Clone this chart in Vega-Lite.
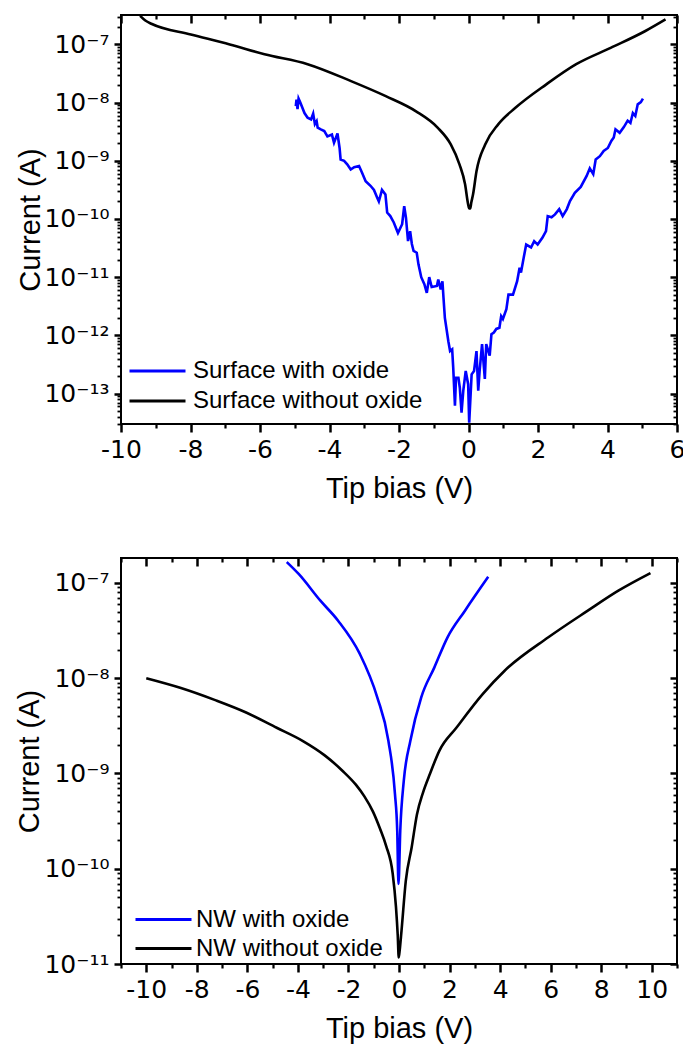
{
  "$schema": "https://vega.github.io/schema/vega-lite/v6.json",
  "padding": {"left": 14, "top": 12, "right": 0, "bottom": 0},
  "spacing": 51,
  "resolve": {"scale": {"color": "independent"}, "legend": {"color": "independent"}},
  "datasets": {
    "surface": [
      {"V": -9.45, "I": 3.09e-7, "series": "Surface without oxide"},
      {"V": -9.3, "I": 2.57e-7, "series": "Surface without oxide"},
      {"V": -9.11, "I": 2.24e-7, "series": "Surface without oxide"},
      {"V": -7.99, "I": 1.48e-7, "series": "Surface without oxide"},
      {"V": -6.87, "I": 1.0e-7, "series": "Surface without oxide"},
      {"V": -5.87, "I": 6.76e-8, "series": "Surface without oxide"},
      {"V": -4.63, "I": 4.57e-8, "series": "Surface without oxide"},
      {"V": -3.38, "I": 2.34e-8, "series": "Surface without oxide"},
      {"V": -2.38, "I": 1.29e-8, "series": "Surface without oxide"},
      {"V": -1.51, "I": 7.08e-9, "series": "Surface without oxide"},
      {"V": -0.89, "I": 3.72e-9, "series": "Surface without oxide"},
      {"V": -0.51, "I": 1.91e-9, "series": "Surface without oxide"},
      {"V": -0.26, "I": 8.71e-10, "series": "Surface without oxide"},
      {"V": -0.1, "I": 3.98e-10, "series": "Surface without oxide"},
      {"V": -0.01, "I": 1.78e-10, "series": "Surface without oxide"},
      {"V": 0.02, "I": 1.51e-10, "series": "Surface without oxide"},
      {"V": 0.05, "I": 1.51e-10, "series": "Surface without oxide"},
      {"V": 0.08, "I": 1.91e-10, "series": "Surface without oxide"},
      {"V": 0.13, "I": 2.63e-10, "series": "Surface without oxide"},
      {"V": 0.23, "I": 6.61e-10, "series": "Surface without oxide"},
      {"V": 0.48, "I": 1.91e-9, "series": "Surface without oxide"},
      {"V": 0.86, "I": 4.27e-9, "series": "Surface without oxide"},
      {"V": 1.35, "I": 8.13e-9, "series": "Surface without oxide"},
      {"V": 2.23, "I": 2.04e-8, "series": "Surface without oxide"},
      {"V": 3.1, "I": 4.57e-8, "series": "Surface without oxide"},
      {"V": 4.09, "I": 8.71e-8, "series": "Surface without oxide"},
      {"V": 5.09, "I": 1.7e-7, "series": "Surface without oxide"},
      {"V": 5.67, "I": 2.69e-7, "series": "Surface without oxide"},
      {"V": -4.97, "I": 8.71e-9, "series": "Surface with oxide"},
      {"V": -4.95, "I": 1.12e-8, "series": "Surface with oxide"},
      {"V": -4.92, "I": 7.76e-9, "series": "Surface with oxide"},
      {"V": -4.89, "I": 1.17e-8, "series": "Surface with oxide"},
      {"V": -4.84, "I": 1.0e-8, "series": "Surface with oxide"},
      {"V": -4.72, "I": 6.61e-9, "series": "Surface with oxide"},
      {"V": -4.63, "I": 5.5e-9, "series": "Surface with oxide"},
      {"V": -4.53, "I": 5.13e-9, "series": "Surface with oxide"},
      {"V": -4.47, "I": 6.46e-9, "series": "Surface with oxide"},
      {"V": -4.42, "I": 4.27e-9, "series": "Surface with oxide"},
      {"V": -4.37, "I": 4.79e-9, "series": "Surface with oxide"},
      {"V": -4.34, "I": 3.72e-9, "series": "Surface with oxide"},
      {"V": -4.25, "I": 3.47e-9, "series": "Surface with oxide"},
      {"V": -4.15, "I": 3.24e-9, "series": "Surface with oxide"},
      {"V": -4.06, "I": 2.63e-9, "series": "Surface with oxide"},
      {"V": -3.93, "I": 2.82e-9, "series": "Surface with oxide"},
      {"V": -3.87, "I": 2.04e-9, "series": "Surface with oxide"},
      {"V": -3.77, "I": 2.95e-9, "series": "Surface with oxide"},
      {"V": -3.71, "I": 1.66e-9, "series": "Surface with oxide"},
      {"V": -3.68, "I": 1.05e-9, "series": "Surface with oxide"},
      {"V": -3.58, "I": 1.0e-9, "series": "Surface with oxide"},
      {"V": -3.49, "I": 8.71e-10, "series": "Surface with oxide"},
      {"V": -3.39, "I": 7.08e-10, "series": "Surface with oxide"},
      {"V": -3.29, "I": 7.76e-10, "series": "Surface with oxide"},
      {"V": -3.15, "I": 8.13e-10, "series": "Surface with oxide"},
      {"V": -3.06, "I": 6.17e-10, "series": "Surface with oxide"},
      {"V": -2.96, "I": 4.47e-10, "series": "Surface with oxide"},
      {"V": -2.82, "I": 3.72e-10, "series": "Surface with oxide"},
      {"V": -2.72, "I": 3.16e-10, "series": "Surface with oxide"},
      {"V": -2.63, "I": 2.34e-10, "series": "Surface with oxide"},
      {"V": -2.58, "I": 2.0e-10, "series": "Surface with oxide"},
      {"V": -2.49, "I": 3.16e-10, "series": "Surface with oxide"},
      {"V": -2.39, "I": 2.63e-10, "series": "Surface with oxide"},
      {"V": -2.34, "I": 1.29e-10, "series": "Surface with oxide"},
      {"V": -2.25, "I": 1.12e-10, "series": "Surface with oxide"},
      {"V": -2.15, "I": 8.71e-11, "series": "Surface with oxide"},
      {"V": -2.03, "I": 5.75e-11, "series": "Surface with oxide"},
      {"V": -1.91, "I": 8.13e-11, "series": "Surface with oxide"},
      {"V": -1.85, "I": 1.66e-10, "series": "Surface with oxide"},
      {"V": -1.8, "I": 1.05e-10, "series": "Surface with oxide"},
      {"V": -1.74, "I": 4.17e-11, "series": "Surface with oxide"},
      {"V": -1.68, "I": 6.17e-11, "series": "Surface with oxide"},
      {"V": -1.63, "I": 3.72e-11, "series": "Surface with oxide"},
      {"V": -1.58, "I": 2.82e-11, "series": "Surface with oxide"},
      {"V": -1.49, "I": 2.63e-11, "series": "Surface with oxide"},
      {"V": -1.44, "I": 1.66e-11, "series": "Surface with oxide"},
      {"V": -1.36, "I": 1.0e-11, "series": "Surface with oxide"},
      {"V": -1.27, "I": 7.59e-12, "series": "Surface with oxide"},
      {"V": -1.2, "I": 5.37e-12, "series": "Surface with oxide"},
      {"V": -1.13, "I": 1.0e-11, "series": "Surface with oxide"},
      {"V": -1.06, "I": 6.76e-12, "series": "Surface with oxide"},
      {"V": -0.91, "I": 7.08e-12, "series": "Surface with oxide"},
      {"V": -0.87, "I": 9.12e-12, "series": "Surface with oxide"},
      {"V": -0.8, "I": 6.17e-12, "series": "Surface with oxide"},
      {"V": -0.75, "I": 8.51e-12, "series": "Surface with oxide"},
      {"V": -0.72, "I": 4.47e-12, "series": "Surface with oxide"},
      {"V": -0.68, "I": 2.0e-12, "series": "Surface with oxide"},
      {"V": -0.58, "I": 7.94e-13, "series": "Surface with oxide"},
      {"V": -0.53, "I": 5.37e-13, "series": "Surface with oxide"},
      {"V": -0.47, "I": 5.75e-13, "series": "Surface with oxide"},
      {"V": -0.44, "I": 2.82e-13, "series": "Surface with oxide"},
      {"V": -0.39, "I": 6.17e-14, "series": "Surface with oxide"},
      {"V": -0.36, "I": 1.86e-13, "series": "Surface with oxide"},
      {"V": -0.29, "I": 1.86e-13, "series": "Surface with oxide"},
      {"V": -0.25, "I": 1.26e-13, "series": "Surface with oxide"},
      {"V": -0.2, "I": 4.68e-14, "series": "Surface with oxide"},
      {"V": -0.15, "I": 1.12e-13, "series": "Surface with oxide"},
      {"V": -0.08, "I": 2.45e-13, "series": "Surface with oxide"},
      {"V": -0.01, "I": 1.45e-13, "series": "Surface with oxide"},
      {"V": 0.02, "I": 3.16e-14, "series": "Surface with oxide"},
      {"V": 0.09, "I": 2.14e-13, "series": "Surface with oxide"},
      {"V": 0.16, "I": 2.45e-13, "series": "Surface with oxide"},
      {"V": 0.23, "I": 5.37e-13, "series": "Surface with oxide"},
      {"V": 0.28, "I": 1.12e-13, "series": "Surface with oxide"},
      {"V": 0.32, "I": 2.45e-13, "series": "Surface with oxide"},
      {"V": 0.39, "I": 7.08e-13, "series": "Surface with oxide"},
      {"V": 0.47, "I": 1.78e-13, "series": "Surface with oxide"},
      {"V": 0.51, "I": 7.08e-13, "series": "Surface with oxide"},
      {"V": 0.61, "I": 4.47e-13, "series": "Surface with oxide"},
      {"V": 0.66, "I": 1.05e-12, "series": "Surface with oxide"},
      {"V": 0.73, "I": 1.12e-12, "series": "Surface with oxide"},
      {"V": 0.8, "I": 1.29e-12, "series": "Surface with oxide"},
      {"V": 0.89, "I": 1.35e-12, "series": "Surface with oxide"},
      {"V": 0.94, "I": 2.14e-12, "series": "Surface with oxide"},
      {"V": 0.99, "I": 1.91e-12, "series": "Surface with oxide"},
      {"V": 1.09, "I": 2.82e-12, "series": "Surface with oxide"},
      {"V": 1.15, "I": 5.01e-12, "series": "Surface with oxide"},
      {"V": 1.28, "I": 5.01e-12, "series": "Surface with oxide"},
      {"V": 1.4, "I": 8.51e-12, "series": "Surface with oxide"},
      {"V": 1.47, "I": 1.45e-11, "series": "Surface with oxide"},
      {"V": 1.51, "I": 1.2e-11, "series": "Surface with oxide"},
      {"V": 1.59, "I": 2.19e-11, "series": "Surface with oxide"},
      {"V": 1.66, "I": 3.63e-11, "series": "Surface with oxide"},
      {"V": 1.8, "I": 3.24e-11, "series": "Surface with oxide"},
      {"V": 1.89, "I": 4.17e-11, "series": "Surface with oxide"},
      {"V": 1.99, "I": 3.63e-11, "series": "Surface with oxide"},
      {"V": 2.13, "I": 4.79e-11, "series": "Surface with oxide"},
      {"V": 2.23, "I": 6.17e-11, "series": "Surface with oxide"},
      {"V": 2.28, "I": 1.12e-10, "series": "Surface with oxide"},
      {"V": 2.39, "I": 1.07e-10, "series": "Surface with oxide"},
      {"V": 2.49, "I": 1.2e-10, "series": "Surface with oxide"},
      {"V": 2.61, "I": 1.48e-10, "series": "Surface with oxide"},
      {"V": 2.71, "I": 1.12e-10, "series": "Surface with oxide"},
      {"V": 2.83, "I": 1.48e-10, "series": "Surface with oxide"},
      {"V": 2.92, "I": 2.04e-10, "series": "Surface with oxide"},
      {"V": 3.06, "I": 2.82e-10, "series": "Surface with oxide"},
      {"V": 3.23, "I": 3.55e-10, "series": "Surface with oxide"},
      {"V": 3.4, "I": 5.5e-10, "series": "Surface with oxide"},
      {"V": 3.49, "I": 7.41e-10, "series": "Surface with oxide"},
      {"V": 3.59, "I": 5.89e-10, "series": "Surface with oxide"},
      {"V": 3.66, "I": 1.05e-9, "series": "Surface with oxide"},
      {"V": 3.78, "I": 1.2e-9, "series": "Surface with oxide"},
      {"V": 3.89, "I": 1.48e-9, "series": "Surface with oxide"},
      {"V": 4.01, "I": 1.66e-9, "series": "Surface with oxide"},
      {"V": 4.11, "I": 2.19e-9, "series": "Surface with oxide"},
      {"V": 4.18, "I": 2.51e-9, "series": "Surface with oxide"},
      {"V": 4.23, "I": 3.47e-9, "series": "Surface with oxide"},
      {"V": 4.35, "I": 3.02e-9, "series": "Surface with oxide"},
      {"V": 4.47, "I": 3.8e-9, "series": "Surface with oxide"},
      {"V": 4.58, "I": 4.9e-9, "series": "Surface with oxide"},
      {"V": 4.66, "I": 4.47e-9, "series": "Surface with oxide"},
      {"V": 4.73, "I": 6.61e-9, "series": "Surface with oxide"},
      {"V": 4.8, "I": 5.89e-9, "series": "Surface with oxide"},
      {"V": 4.87, "I": 9.33e-9, "series": "Surface with oxide"},
      {"V": 4.96, "I": 1.02e-8, "series": "Surface with oxide"},
      {"V": 5.02, "I": 1.17e-8, "series": "Surface with oxide"}
    ],
    "nw": [
      {"V": -10.0, "I": 1.0e-8, "series": "NW without oxide"},
      {"V": -8.66, "I": 7.94e-9, "series": "NW without oxide"},
      {"V": -7.27, "I": 5.89e-9, "series": "NW without oxide"},
      {"V": -6.05, "I": 4.37e-9, "series": "NW without oxide"},
      {"V": -4.84, "I": 3.02e-9, "series": "NW without oxide"},
      {"V": -3.8, "I": 2.19e-9, "series": "NW without oxide"},
      {"V": -2.94, "I": 1.55e-9, "series": "NW without oxide"},
      {"V": -2.24, "I": 1.07e-9, "series": "NW without oxide"},
      {"V": -1.7, "I": 7.59e-10, "series": "NW without oxide"},
      {"V": -1.37, "I": 5.75e-10, "series": "NW without oxide"},
      {"V": -1.03, "I": 3.98e-10, "series": "NW without oxide"},
      {"V": -0.75, "I": 2.63e-10, "series": "NW without oxide"},
      {"V": -0.51, "I": 1.74e-10, "series": "NW without oxide"},
      {"V": -0.25, "I": 8.91e-11, "series": "NW without oxide"},
      {"V": -0.12, "I": 3.98e-11, "series": "NW without oxide"},
      {"V": -0.05, "I": 2.0e-11, "series": "NW without oxide"},
      {"V": -0.01, "I": 1.17e-11, "series": "NW without oxide"},
      {"V": 0.03, "I": 1.41e-11, "series": "NW without oxide"},
      {"V": 0.1, "I": 2.24e-11, "series": "NW without oxide"},
      {"V": 0.27, "I": 7.5e-11, "series": "NW without oxide"},
      {"V": 0.5, "I": 1.67e-10, "series": "NW without oxide"},
      {"V": 0.71, "I": 3.72e-10, "series": "NW without oxide"},
      {"V": 0.95, "I": 6.31e-10, "series": "NW without oxide"},
      {"V": 1.23, "I": 1.0e-9, "series": "NW without oxide"},
      {"V": 1.6, "I": 1.74e-9, "series": "NW without oxide"},
      {"V": 2.27, "I": 3.02e-9, "series": "NW without oxide"},
      {"V": 3.31, "I": 6.82e-9, "series": "NW without oxide"},
      {"V": 4.18, "I": 1.2e-8, "series": "NW without oxide"},
      {"V": 5.91, "I": 2.69e-8, "series": "NW without oxide"},
      {"V": 7.47, "I": 5.12e-8, "series": "NW without oxide"},
      {"V": 8.68, "I": 8.3e-8, "series": "NW without oxide"},
      {"V": 9.95, "I": 1.27e-7, "series": "NW without oxide"},
      {"V": -4.44, "I": 1.66e-7, "series": "NW with oxide"},
      {"V": -3.97, "I": 1.245e-7, "series": "NW with oxide"},
      {"V": -3.11, "I": 6.52e-8, "series": "NW with oxide"},
      {"V": -2.41, "I": 4.02e-8, "series": "NW with oxide"},
      {"V": -1.55, "I": 1.8e-8, "series": "NW with oxide"},
      {"V": -0.86, "I": 6.31e-9, "series": "NW with oxide"},
      {"V": -0.42, "I": 2.21e-9, "series": "NW with oxide"},
      {"V": -0.16, "I": 6.1e-10, "series": "NW with oxide"},
      {"V": -0.07, "I": 2.51e-10, "series": "NW with oxide"},
      {"V": -0.02, "I": 6.92e-11, "series": "NW with oxide"},
      {"V": 0.05, "I": 2.51e-10, "series": "NW with oxide"},
      {"V": 0.19, "I": 8.4e-10, "series": "NW with oxide"},
      {"V": 0.45, "I": 2.21e-9, "series": "NW with oxide"},
      {"V": 0.88, "I": 6.31e-9, "series": "NW with oxide"},
      {"V": 1.4, "I": 1.3e-8, "series": "NW with oxide"},
      {"V": 1.92, "I": 2.69e-8, "series": "NW with oxide"},
      {"V": 2.61, "I": 5.12e-8, "series": "NW with oxide"},
      {"V": 3.53, "I": 1.16e-7, "series": "NW with oxide"}
    ]
  },
  "vconcat": [
    {
      "width": 556,
      "height": 409,
      "data": {"name": "surface"},
      "layer": [
        {
          "transform": [{"filter": "datum.series == 'Surface with oxide'"}],
          "mark": {"type": "line", "strokeWidth": 2.6, "clip": true},
          "encoding": {
            "x": {
              "field": "V", "type": "quantitative",
              "scale": {"domain": [-10, 6], "nice": false, "zero": false},
              "axis": {
                "orient": "bottom", "title": "Tip bias (V)",
                "values": [-10, -8, -6, -4, -2, 0, 2, 4, 6],
                "labelExpr": "toString(datum.value)",
                "tickWidth": 2.5, "tickSize": 8, "labelPadding": 5, "titlePadding": 12
              }
            },
            "y": {
              "field": "I", "type": "quantitative",
              "scale": {"type": "log", "domain": [3e-14, 3.2e-7], "nice": false},
              "axis": {
                "orient": "left", "title": "Current (A)",
                "values": [1e-13, 1e-12, 1e-11, 1e-10, 1e-9, 1e-8, 1e-7],
                "labelExpr": "'10⁻' + (abs(round(log(datum.value)/LN10)) >= 10 ? '¹' : '') + ['⁰','¹','²','³','⁴','⁵','⁶','⁷','⁸','⁹'][abs(round(log(datum.value)/LN10)) % 10]",
                "tickWidth": 2.5, "tickSize": 7, "labelPadding": 5, "titlePadding": -2
              }
            },
            "color": {
              "field": "series", "type": "nominal",
              "scale": {"domain": ["Surface with oxide", "Surface without oxide"], "range": ["#0000ff", "#000000"]},
              "legend": {"orient": "none", "legendX": 7, "legendY": 342, "title": null, "clipHeight": 28, "rowPadding": 2, "labelOffset": 6}
            }
          }
        },
        {
          "transform": [{"filter": "datum.series == 'Surface without oxide'"}],
          "mark": {"type": "line", "strokeWidth": 2.6, "clip": true, "interpolate": "monotone"},
          "encoding": {
            "x": {"field": "V", "type": "quantitative", "axis": null},
            "y": {"field": "I", "type": "quantitative", "axis": null},
            "color": {"field": "series", "type": "nominal"}
          }
        },
        {
          "mark": {"type": "point", "opacity": 0},
          "encoding": {
            "x": {"field": "V", "type": "quantitative", "axis": {"orient": "bottom", "title": null, "labels": false, "tickWidth": 2.2, "values": [-9, -7, -5, -3, -1, 1, 3, 5], "tickSize": 4}},
            "y": {"field": "I", "type": "quantitative", "axis": {"orient": "left", "title": null, "labels": false, "tickWidth": 1.8, "tickSize": 4, "values": [3e-14, 4e-14, 5e-14, 6e-14, 7e-14, 8e-14, 9e-14, 2e-13, 3e-13, 4e-13, 5e-13, 6e-13, 7e-13, 8e-13, 9e-13, 2e-12, 3e-12, 4e-12, 5e-12, 6e-12, 7e-12, 8e-12, 9e-12, 2e-11, 3e-11, 4e-11, 5e-11, 6e-11, 7e-11, 8e-11, 9e-11, 2e-10, 3e-10, 4e-10, 5e-10, 6e-10, 7e-10, 8e-10, 9e-10, 2e-9, 3e-9, 4e-9, 5e-9, 6e-9, 7e-9, 8e-9, 9e-9, 2e-8, 3e-8, 4e-8, 5e-8, 6e-8, 7e-8, 8e-8, 9e-8, 2e-7, 3e-7]}}
          }
        },
        {
          "mark": {"type": "point", "opacity": 0},
          "encoding": {
            "x": {"field": "V", "type": "quantitative", "axis": {"orient": "top", "title": null, "labels": false, "tickWidth": 2.5, "values": [-10, -8, -6, -4, -2, 0, 2, 4, 6], "tickSize": 8, "offset": -8}},
            "y": {"field": "I", "type": "quantitative", "axis": {"orient": "right", "title": null, "labels": false, "tickWidth": 2.5, "values": [1e-13, 1e-12, 1e-11, 1e-10, 1e-9, 1e-8, 1e-7], "tickSize": 7, "offset": -7}}
          }
        },
        {
          "mark": {"type": "point", "opacity": 0},
          "encoding": {
            "x": {"field": "V", "type": "quantitative", "axis": {"orient": "top", "title": null, "labels": false, "tickWidth": 2.2, "values": [-9, -7, -5, -3, -1, 1, 3, 5], "tickSize": 4, "offset": -4}},
            "y": {"field": "I", "type": "quantitative", "axis": {"orient": "right", "title": null, "labels": false, "tickWidth": 1.8, "tickSize": 4, "offset": -4, "values": [3e-14, 4e-14, 5e-14, 6e-14, 7e-14, 8e-14, 9e-14, 2e-13, 3e-13, 4e-13, 5e-13, 6e-13, 7e-13, 8e-13, 9e-13, 2e-12, 3e-12, 4e-12, 5e-12, 6e-12, 7e-12, 8e-12, 9e-12, 2e-11, 3e-11, 4e-11, 5e-11, 6e-11, 7e-11, 8e-11, 9e-11, 2e-10, 3e-10, 4e-10, 5e-10, 6e-10, 7e-10, 8e-10, 9e-10, 2e-9, 3e-9, 4e-9, 5e-9, 6e-9, 7e-9, 8e-9, 9e-9, 2e-8, 3e-8, 4e-8, 5e-8, 6e-8, 7e-8, 8e-8, 9e-8, 2e-7, 3e-7]}}
          }
        }
      ],
      "resolve": {"axis": {"x": "independent", "y": "independent"}}
    },
    {
      "width": 556,
      "height": 406,
      "data": {"name": "nw"},
      "layer": [
        {
          "mark": {"type": "line", "strokeWidth": 2.6, "clip": true, "interpolate": "monotone"},
          "encoding": {
            "x": {
              "field": "V", "type": "quantitative",
              "scale": {"domain": [-11, 11], "nice": false, "zero": false},
              "axis": {
                "orient": "bottom", "title": "Tip bias (V)",
                "values": [-10, -8, -6, -4, -2, 0, 2, 4, 6, 8, 10],
                "labelExpr": "toString(datum.value)",
                "tickWidth": 2.5, "tickSize": 8, "labelPadding": 5, "titlePadding": 12
              }
            },
            "y": {
              "field": "I", "type": "quantitative",
              "scale": {"type": "log", "domain": [1e-11, 1.83e-7], "nice": false},
              "axis": {
                "orient": "left", "title": "Current (A)",
                "values": [1e-11, 1e-10, 1e-9, 1e-8, 1e-7],
                "labelExpr": "'10⁻' + (abs(round(log(datum.value)/LN10)) >= 10 ? '¹' : '') + ['⁰','¹','²','³','⁴','⁵','⁶','⁷','⁸','⁹'][abs(round(log(datum.value)/LN10)) % 10]",
                "tickWidth": 2.5, "tickSize": 7, "labelPadding": 5, "titlePadding": -1
              }
            },
            "color": {
              "field": "series", "type": "nominal",
              "scale": {"domain": ["NW with oxide", "NW without oxide"], "range": ["#0000ff", "#000000"]},
              "legend": {"orient": "none", "legendX": 13, "legendY": 348, "title": null, "clipHeight": 27, "rowPadding": 2, "labelOffset": 3}
            }
          }
        },
        {
          "mark": {"type": "point", "opacity": 0},
          "encoding": {
            "x": {"field": "V", "type": "quantitative", "axis": {"orient": "bottom", "title": null, "labels": false, "tickWidth": 2.2, "values": [-11, -9, -7, -5, -3, -1, 1, 3, 5, 7, 9, 11], "tickSize": 4}},
            "y": {"field": "I", "type": "quantitative", "axis": {"orient": "left", "title": null, "labels": false, "tickWidth": 1.8, "tickSize": 4, "values": [2e-11, 3e-11, 4e-11, 5e-11, 6e-11, 7e-11, 8e-11, 9e-11, 2e-10, 3e-10, 4e-10, 5e-10, 6e-10, 7e-10, 8e-10, 9e-10, 2e-9, 3e-9, 4e-9, 5e-9, 6e-9, 7e-9, 8e-9, 9e-9, 2e-8, 3e-8, 4e-8, 5e-8, 6e-8, 7e-8, 8e-8, 9e-8]}}
          }
        },
        {
          "mark": {"type": "point", "opacity": 0},
          "encoding": {
            "x": {"field": "V", "type": "quantitative", "axis": {"orient": "top", "title": null, "labels": false, "tickWidth": 2.5, "values": [-10, -8, -6, -4, -2, 0, 2, 4, 6, 8, 10], "tickSize": 8, "offset": -8}},
            "y": {"field": "I", "type": "quantitative", "axis": {"orient": "right", "title": null, "labels": false, "tickWidth": 2.5, "values": [1e-11, 1e-10, 1e-9, 1e-8, 1e-7], "tickSize": 7, "offset": -7}}
          }
        },
        {
          "mark": {"type": "point", "opacity": 0},
          "encoding": {
            "x": {"field": "V", "type": "quantitative", "axis": {"orient": "top", "title": null, "labels": false, "tickWidth": 2.2, "values": [-11, -9, -7, -5, -3, -1, 1, 3, 5, 7, 9, 11], "tickSize": 4, "offset": -4}},
            "y": {"field": "I", "type": "quantitative", "axis": {"orient": "right", "title": null, "labels": false, "tickWidth": 1.8, "tickSize": 4, "offset": -4, "values": [2e-11, 3e-11, 4e-11, 5e-11, 6e-11, 7e-11, 8e-11, 9e-11, 2e-10, 3e-10, 4e-10, 5e-10, 6e-10, 7e-10, 8e-10, 9e-10, 2e-9, 3e-9, 4e-9, 5e-9, 6e-9, 7e-9, 8e-9, 9e-9, 2e-8, 3e-8, 4e-8, 5e-8, 6e-8, 7e-8, 8e-8, 9e-8]}}
          }
        }
      ],
      "resolve": {"axis": {"x": "independent", "y": "independent"}}
    }
  ],
  "config": {
    "font": "Liberation Sans, Arial, sans-serif",
    "view": {"stroke": "#000000", "strokeWidth": 2},
    "axis": {
      "labelFont": "DejaVu Sans, sans-serif",
      "titleFont": "Liberation Sans, Arial, sans-serif",
      "labelFontSize": 25,
      "titleFontSize": 29,
      "titleFontWeight": "normal",
      "labelColor": "#000000",
      "titleColor": "#000000",
      "tickColor": "#000000",
      "grid": false,
      "domain": false,
      "labelOverlap": false,
      "labelFlush": false
    },
    "legend": {
      "labelFont": "Liberation Sans, Arial, sans-serif",
      "labelFontSize": 24,
      "labelColor": "#000000",
      "symbolType": "stroke",
      "symbolSize": 3136,
      "symbolStrokeWidth": 3,
      "padding": 0,
      "labelLimit": 400
    }
  }
}
